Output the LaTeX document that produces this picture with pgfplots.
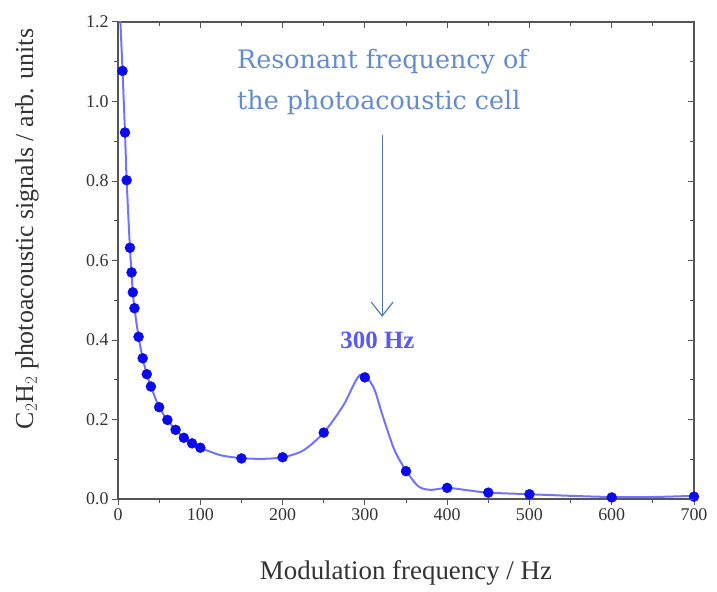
\documentclass[border=0pt]{standalone}
\usepackage{pgfplots}
\pgfplotsset{compat=1.18}
\usepackage{fontspec}
\setmainfont{Liberation Serif}
\newfontfamily\annfont{DejaVu Serif}
\usetikzlibrary{arrows.meta}

\definecolor{axisgray}{RGB}{85,85,85}
\definecolor{ptblue}{RGB}{10,10,235}
\definecolor{fitblue}{RGB}{115,115,250}
\definecolor{annblue}{RGB}{100,140,205}
\definecolor{hzblue}{RGB}{90,90,240}

\begin{document}
\begin{tikzpicture}
  \pgfplotsset{
    every axis/.append style={
      scale only axis,
      width=576bp, height=477bp,
      xmin=0, xmax=700, ymin=0, ymax=1.2,
      xtick={0,100,...,700},
      ytick={0,0.2,...,1.2},
      minor tick num=1,
      axis line style={axisgray, line width=1.3bp},
      tick style={axisgray, line width=1bp},
      major tick length=6bp,
      minor tick length=4bp,
    },
  }
  \begin{axis}[
      tick align=outside,
      xtick pos=bottom, ytick pos=left,
      ticklabel style={font=\rmfamily\fontsize{18}{20}\selectfont, text=black!80},
      /pgf/number format/assume math mode=true,
      xticklabel={\pgfmathprintnumber{\tick}},
      yticklabel={\pgfmathprintnumber[fixed, fixed zerofill, precision=1]{\tick}},
      xlabel={Modulation frequency / Hz},
      ylabel={C$_2$H$_2$ photoacoustic signals / arb. units},
      xlabel style={font=\fontsize{27}{30}\selectfont, text=black!80,
        at={(axis description cs:0.5,-0.155)}, anchor=center},
      ylabel style={font=\fontsize{26}{29}\selectfont, text=black!80,
        at={(axis description cs:-0.158,0.566)}, anchor=center},
    ]
    % fitted curve
    \addplot[fitblue, line width=2bp, smooth, tension=0.5] coordinates {
      (2.5,1.22) (5.5,1.077) (8.5,0.922) (10.5,0.802) (14.5,0.632)
      (16.5,0.570) (18,0.52) (20,0.48) (25,0.408) (30,0.354) (35,0.314)
      (40,0.283) (50,0.231) (60,0.199) (70,0.174) (80,0.154) (90,0.140)
      (100,0.129) (125,0.110) (150,0.103) (175,0.101) (200,0.105)
      (225,0.122) (250,0.167) (274,0.236) (294,0.312) (310,0.283)
      (322,0.207) (336,0.123) (350,0.072) (365,0.032) (380,0.023) (400,0.028)
      (425,0.022) (450,0.016) (500,0.012) (550,0.008) (600,0.005)
      (650,0.005) (700,0.008)
    };
    % measured points
    \addplot[only marks, mark=*, mark size=5bp, ptblue] coordinates {
      (5.5,1.077) (8.5,0.922) (10.5,0.802) (14.5,0.632) (16.5,0.570)
      (18,0.52) (20,0.48) (25,0.408) (30,0.354) (35,0.314) (40,0.283)
      (50,0.231) (60,0.199) (70,0.174) (80,0.154) (90,0.140) (100,0.129)
      (150,0.102) (200,0.105) (250,0.167) (300,0.306) (350,0.070)
      (400,0.028) (450,0.016) (500,0.012) (600,0.004) (700,0.006)
    };
    \node[anchor=base west, text=annblue, font=\annfont\fontsize{25.5}{28}\selectfont, inner sep=0pt]
      at (axis cs:144.6,1.084) {Resonant frequency of};
    \node[anchor=base west, text=annblue, font=\annfont\fontsize{25.5}{28}\selectfont, inner sep=0pt]
      at (axis cs:144.6,0.979) {the photoacoustic cell};
    \draw[annblue!85!black, line width=1.2bp, -{Straight Barb[length=14bp,width=22bp,line width=1.2bp]}]
      (axis cs:321,0.916) -- (axis cs:321,0.458);
    \node[text=hzblue, font=\bfseries\fontsize{25}{28}\selectfont, inner sep=0pt]
      at (axis cs:315.3,0.40) {300 Hz};
  \end{axis}
  \begin{axis}[
      tick align=inside,
      xtick pos=top, ytick pos=right,
      xticklabels={}, yticklabels={},
      axis line style={draw=none},
    ]
  \end{axis}
  \path ([xshift=-118bp,yshift=-92bp]current axis.south west)
    rectangle ([xshift=23bp,yshift=22bp]current axis.north east);
\end{tikzpicture}
\end{document}
